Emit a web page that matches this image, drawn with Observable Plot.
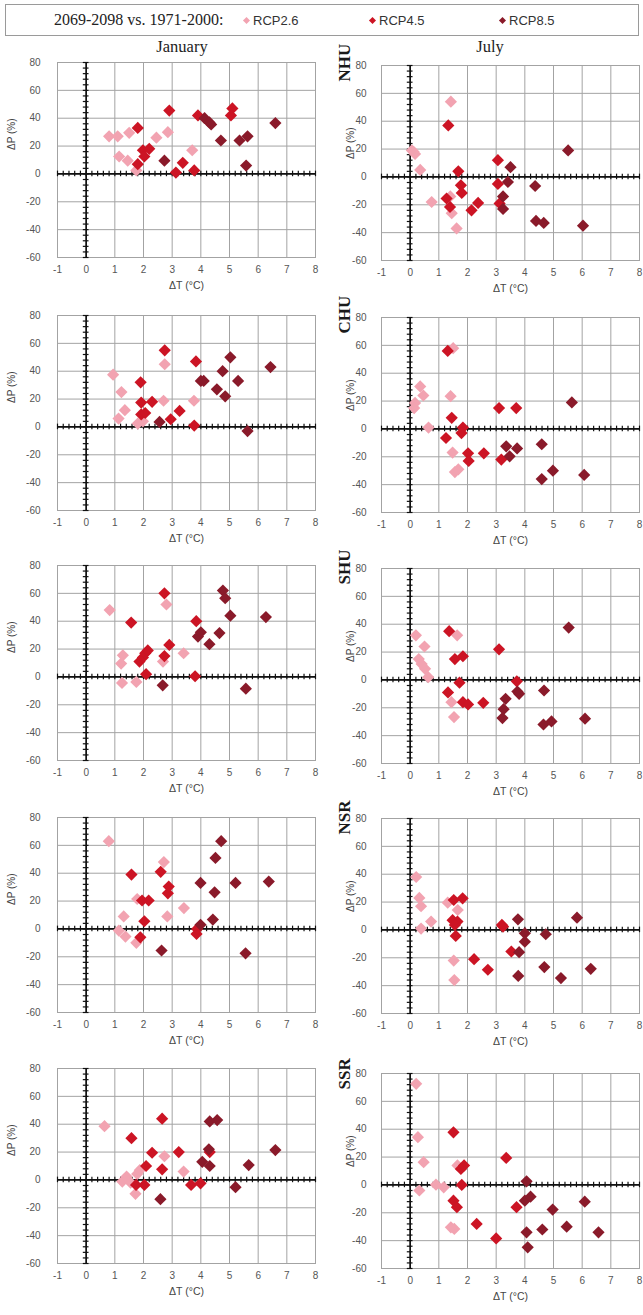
<!DOCTYPE html>
<html>
<head>
<meta charset="utf-8">
<script src="https://cdn.jsdelivr.net/npm/d3@7"></script>
<script src="https://cdn.jsdelivr.net/npm/@observablehq/plot@0.6"></script>
<style>
  body { margin: 0; background: #fff; }
  #fig { position: relative; width: 643px; height: 1315px; overflow: hidden; background: #fff;
         font-family: "Liberation Sans", Arial, sans-serif; }
  .legend { position: absolute; left: 5px; top: 4px; width: 634px; height: 32px;
            border: 1px solid #9a9a9a; box-sizing: border-box; }
  .ltitle { position: absolute; left: 48px; top: 6px; font-family: "Liberation Serif", serif;
            font-size: 16px; color: #222; white-space: nowrap; }
  .litem { position: absolute; top: 8px; font-size: 13px; color: #333; white-space: nowrap; }
  .mk { display: inline-block; width: 5px; height: 5px; transform: rotate(45deg);
        margin-right: 4px; vertical-align: 2px; }
  .month { position: absolute; top: 37px; font-family: "Liberation Serif", serif; font-size: 16.5px;
           color: #222; transform: translateX(-50%); white-space: nowrap; }
  .panel { position: absolute; }
  .panel svg { overflow: visible; }
</style>
</head>
<body>
<div id="fig"></div>
<script>
// Scenario legend and layout labels
const scenarios = ["RCP2.6", "RCP4.5", "RCP8.5"];
const scenarioColors = ["#f2a3b1", "#cc1424", "#8a1a2a"];
const periodLabel = "2069-2098 vs. 1971-2000:";
const months = ["January", "July"];
const regions = ["NHU", "CHU", "SHU", "NSR", "SSR"];
const xTicks = [-1, 0, 1, 2, 3, 4, 5, 6, 7, 8];
const yTicks = [-60, -40, -20, 0, 20, 40, 60, 80];
const xLabel = "ΔT (°C)";
const yLabel = "ΔP (%)";

// [ΔT (°C), ΔP (%)] pairs per region, month and scenario
const nhuJan26 = [[0.8,27],[1.1,27],[1.5,29.5],[1.15,12.5],[1.45,9.5],[1.75,2.5],[2.45,26],[2.85,30],[3.7,17]];
const nhuJan45 = [[1.8,33],[1.98,17],[2.2,18],[2.03,12.5],[1.8,7],[2.9,45.5],[3.37,8],[3.13,1],[3.77,2.5],[3.9,42],[5.05,42],[5.1,47]];
const nhuJan85 = [[2.73,9.5],[4.13,40],[4.3,37],[4.36,35.5],[4.7,24],[5.35,24],[5.63,27],[5.58,6],[6.6,36.5]];

const nhuJul26 = [[1.42,54],[0.06,19],[0.12,18],[0.17,16.5],[0.35,5],[0.75,-18],[1.62,-37],[1.45,-26],[1.4,-14]];
const nhuJul45 = [[1.33,37],[1.68,4],[1.77,-6],[1.8,-11.5],[1.27,-15.5],[1.39,-21.5],[2.14,-24],[2.37,-18.7],[3.06,12],[3.06,-5],[3.12,-19]];
const nhuJul85 = [[3.5,7],[3.41,-3.6],[3.24,-14],[3.24,-23],[4.36,-6.5],[4.39,-31.6],[4.66,-33],[5.51,19],[6.03,-35]];

const chuJan26 = [[0.94,37.5],[1.23,25],[1.35,12],[1.13,6],[1.8,2.4],[1.98,4],[2.74,45],[2.7,18.8],[3.76,18.8]];
const chuJan45 = [[1.9,32],[1.92,17.5],[1.92,9],[2.06,10],[2.3,18],[2.74,55],[2.95,5.5],[3.26,11.5],[3.83,47],[3.77,1]];
const chuJan85 = [[2.56,3.6],[4.0,33],[4.1,33],[4.56,27],[4.76,40],[4.85,22],[5.03,50],[5.3,33],[5.63,-3],[6.43,43]];

const chuJul26 = [[0.17,18.7],[0.14,15],[0.35,30.5],[0.46,24],[0.64,1],[1.41,23.5],[1.5,58],[1.48,-17],[1.56,-31],[1.68,-29]];
const chuJul45 = [[1.31,56],[1.45,8],[1.25,-6.5],[1.84,1],[1.79,-3],[2.02,-17.5],[2.04,-23],[2.57,-17.5],[3.1,15],[3.7,15],[3.18,-22]];
const chuJul85 = [[3.35,-12.5],[3.47,-19.7],[3.73,-14],[4.59,-11],[4.59,-36],[4.98,-30],[5.64,19],[6.07,-33]];

const shuJan26 = [[0.82,48],[1.28,15.5],[1.22,9.6],[1.25,-4.3],[1.75,-3.6],[2.8,52],[2.68,11],[3.4,17]];
const shuJan45 = [[1.57,39],[1.86,11],[1.98,14],[2.06,17],[2.15,19],[2.09,2],[2.73,60],[2.73,15],[2.9,23],[3.84,40],[3.8,0.5]];
const shuJan85 = [[2.67,-6],[3.9,29],[4.0,32],[4.3,23.5],[4.65,31.5],[4.77,62],[4.85,56.5],[5.03,44],[5.57,-8.4],[6.27,43]];

const shuJul26 = [[0.2,32],[0.5,24],[0.3,15],[0.4,11.4],[0.52,8],[0.63,2],[1.64,32],[1.53,-26.7],[1.44,-16]];
const shuJul45 = [[1.36,35],[1.56,15],[1.84,17],[1.72,-2],[1.32,-9],[1.84,-16],[2.02,-17.6],[2.55,-16.4],[3.1,22],[3.72,-1]];
const shuJul85 = [[3.22,-27.4],[3.26,-21],[3.33,-13.6],[3.74,-8.3],[3.8,-10],[4.67,-7.6],[4.65,-32],[4.93,-29.8],[5.53,37.6],[6.1,-27.8]];

const nsrJan26 = [[0.79,63],[1.31,9],[1.14,-1.2],[1.37,-5.5],[1.75,-10],[1.78,21.5],[2.71,48],[2.83,9],[3.41,15]];
const nsrJan45 = [[1.58,39],[1.95,20.4],[2.18,20.4],[2.03,5.5],[1.89,-6],[2.6,41],[2.85,25.6],[2.88,30.4],[3.85,-3.6],[3.87,0]];
const nsrJan85 = [[2.63,-15.5],[3.99,3],[3.99,33],[4.42,6.7],[4.48,26.3],[4.51,51],[4.71,63],[5.21,33],[5.56,-17.5],[6.37,34]];

const nsrJul26 = [[0.21,38],[0.32,23],[0.38,17],[0.38,1],[0.73,6],[1.31,19.6],[1.66,14.3],[1.52,-22],[1.54,-36]];
const nsrJul45 = [[1.52,21.5],[1.83,22.7],[1.48,7],[1.65,6],[1.56,3.6],[1.59,-4.3],[2.23,-21],[2.71,-28.6],[3.2,3.6],[3.24,2.4],[3.53,-15.5]];
const nsrJul85 = [[3.76,7.6],[3.8,-16],[3.77,-33],[4.0,-2.4],[4.0,-8.4],[4.73,-3.1],[4.68,-26.7],[5.26,-34.6],[5.82,8.8],[6.3,-27.9]];

const ssrJan26 = [[0.64,38.6],[1.26,-1.2],[1.41,2.4],[1.55,-2],[1.72,-10],[1.78,4.3],[1.87,7],[2.73,17],[3.4,6]];
const ssrJan45 = [[1.58,30],[1.74,-3.6],[2.03,-3.6],[2.09,10],[2.3,19.5],[2.65,44],[2.65,7.6],[3.23,20],[3.66,-3.6],[3.99,-2.4],[4.31,20]];
const ssrJan85 = [[2.59,-13.8],[4.05,13],[4.31,10],[4.28,22],[4.31,42],[4.57,43],[5.21,-5.2],[5.67,10.7],[6.6,21.4]];

const ssrJul26 = [[0.21,72.6],[0.27,34.3],[0.47,16.3],[0.32,-4],[0.9,0.2],[1.17,-1.7],[1.54,-31.6],[1.42,-30.4],[1.65,14]];
const ssrJul45 = [[1.51,37.8],[1.77,11.5],[1.88,14],[1.8,0],[1.51,-11.3],[1.63,-16],[2.32,-28],[3.0,-38.4],[3.35,19.4],[3.71,-16]];
const ssrJul85 = [[4.06,2.6],[4.0,-11.3],[4.2,-8.4],[4.06,-34],[4.1,-44.8],[4.61,-32],[4.97,-17.7],[5.46,-30],[6.09,-12],[6.57,-34]];

const panelSeries = {
  NHU: [[nhuJan26, nhuJan45, nhuJan85], [nhuJul26, nhuJul45, nhuJul85]],
  CHU: [[chuJan26, chuJan45, chuJan85], [chuJul26, chuJul45, chuJul85]],
  SHU: [[shuJan26, shuJan45, shuJan85], [shuJul26, shuJul45, shuJul85]],
  NSR: [[nsrJan26, nsrJan45, nsrJan85], [nsrJul26, nsrJul45, nsrJul85]],
  SSR: [[ssrJan26, ssrJan45, ssrJan85], [ssrJul26, ssrJul45, ssrJul85]]
};

// Page layout: top edge of each plot frame, by month column
const frameTops = [[62, 315, 565, 817, 1068], [65, 317, 568, 818, 1073]];
const frameH = 195;

const fig = document.getElementById("fig");

// Legend strip
const legend = document.createElement("div");
legend.className = "legend";
const lt = document.createElement("div");
lt.className = "ltitle";
lt.textContent = periodLabel;
legend.appendChild(lt);
const itemX = [238, 364, 494];
scenarios.forEach((s, i) => {
  const it = document.createElement("div");
  it.className = "litem";
  it.style.left = itemX[i] + "px";
  const mk = document.createElement("span");
  mk.className = "mk";
  mk.style.background = scenarioColors[i];
  it.appendChild(mk);
  it.appendChild(document.createTextNode(s));
  legend.appendChild(it);
});
fig.appendChild(legend);

// Column headings
[182, 490].forEach((cx, i) => {
  const m = document.createElement("div");
  m.className = "month";
  m.style.left = cx + "px";
  m.textContent = months[i];
  fig.appendChild(m);
});

const minorY = d3.range(-60, 80.001, 4);
const minorX = d3.range(-1, 8.001, 0.2);
const gridColor = "#a3a3a3";

function makePanel(region, col) {
  const isJuly = col === 1;
  const marginLeft = isJuly ? 61 : 57;
  const width = isJuly ? 323 : 320;
  const marginRight = isJuly ? 4 : 5;
  const marginTop = 10;
  const top = frameTops[col][regions.indexOf(region)] - marginTop;
  const series = panelSeries[region][col];
  const points = scenarios.flatMap((s, i) => series[i].map(([t, p]) => ({t, p, s})));

  const marks = [
    Plot.gridX(xTicks, {stroke: gridColor, strokeOpacity: 1}),
    Plot.gridY(yTicks, {stroke: gridColor, strokeOpacity: 1}),
    Plot.frame({stroke: gridColor}),
    Plot.axisX(xTicks, {tickSize: 0, tickPadding: 8, label: null, tickFormat: d => String(d)}),
    Plot.axisY(yTicks, {tickSize: 0, tickPadding: isJuly ? 15 : 17, label: null, tickFormat: d => String(d)}),
    // axes crossing at the origin, with minor ticks
    Plot.ruleX([0], {stroke: "#111", strokeWidth: 1.7}),
    Plot.ruleY([0], {stroke: "#111", strokeWidth: 1.7}),
    Plot.ruleY(minorY, {y: d => d, x1: -0.1, x2: 0.1, stroke: "#111", strokeWidth: 1.2}),
    Plot.ruleX(minorX, {x: d => d, y1: -2, y2: 2, stroke: "#111", strokeWidth: 1.2}),
    Plot.dot(points, {x: "t", y: "p", fill: "s", symbol: "diamond2", r: 5.5}),
    Plot.text([xLabel], {frameAnchor: "bottom", dy: 31, fontSize: 10.5, fill: "#444"}),
    Plot.text([yLabel], {frameAnchor: "left", dx: isJuly ? -31 : -46, dy: isJuly ? -4 : -10, rotate: -90, fontSize: 10, fill: "#444"})
  ];
  if (isJuly) {
    marks.push(Plot.text([region], {
      frameAnchor: "top-left", dx: -44, dy: 16, rotate: -90,
      fontSize: 17, fontWeight: "bold", fontFamily: "Liberation Serif", fill: "#1a1a1a"
    }));
  }

  const svg = Plot.plot({
    width, height: marginTop + frameH + 45,
    marginLeft, marginRight, marginTop, marginBottom: 45,
    x: {domain: [-1, 8]},
    y: {domain: [-60, 80]},
    color: {domain: scenarios, range: scenarioColors},
    style: {fontFamily: "Liberation Sans, Arial, sans-serif", fontSize: "10px", color: "#555", background: "transparent"},
    marks
  });
  const wrap = document.createElement("div");
  wrap.className = "panel";
  wrap.style.left = (isJuly ? 320 : 0) + "px";
  wrap.style.top = top + "px";
  wrap.appendChild(svg);
  fig.appendChild(wrap);
}

regions.forEach(r => { makePanel(r, 0); makePanel(r, 1); });
</script>
</body>
</html>
